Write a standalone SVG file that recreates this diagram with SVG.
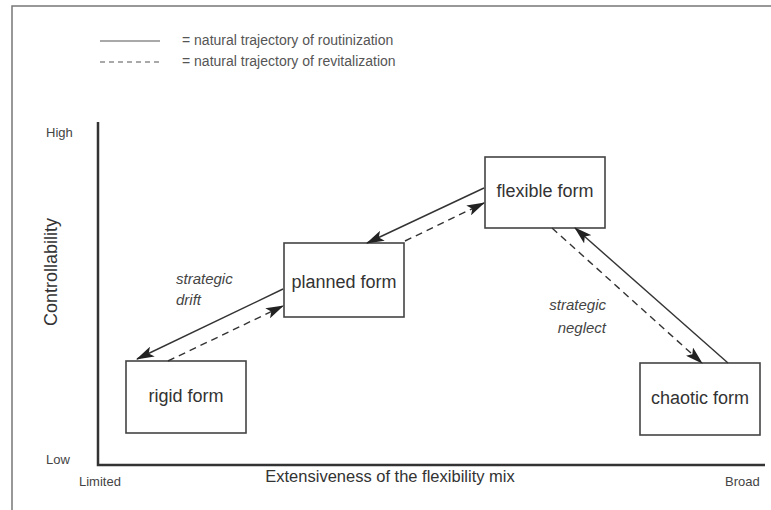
<svg xmlns="http://www.w3.org/2000/svg" width="771" height="510" viewBox="0 0 771 510">
<defs>
<style>
.frame{stroke:#777;stroke-width:1.5;fill:none}
.axis{stroke:#333;stroke-width:2.5;fill:none}
.box{fill:#fff;stroke:#444;stroke-width:1.6}
.lbl{font-family:"Liberation Sans",Arial,sans-serif;font-size:18px;fill:#333;text-anchor:middle}
.small{font-family:"Liberation Sans",Arial,sans-serif;font-size:13px;fill:#444}
.leg{font-family:"Liberation Sans",Arial,sans-serif;font-size:14px;fill:#555}
.it{font-family:"Liberation Sans",Arial,sans-serif;font-size:15px;font-style:italic;fill:#444}
.solid{stroke:#333;stroke-width:1.4;fill:none}
.dash{stroke:#333;stroke-width:1.4;fill:none;stroke-dasharray:7 5}
</style>
<marker id="ah" viewBox="0 0 18 11" refX="17" refY="5.5" markerWidth="18" markerHeight="11" markerUnits="userSpaceOnUse" orient="auto">
<path d="M0,0 L18,5.5 L0,11 L4,5.5 z" fill="#222"/>
</marker>
</defs>
<rect width="771" height="510" fill="#fff"/>
<g id="frame">
<path class="frame" d="M12,510 L12,6 L771,6"/>
</g>
<g id="legend">
<line x1="100" y1="41" x2="160" y2="41" stroke="#555" stroke-width="1.2"/>
<line x1="100" y1="62" x2="160" y2="62" stroke="#555" stroke-width="1.2" stroke-dasharray="5 4"/>
<text class="leg" x="182" y="45">= natural trajectory of routinization</text>
<text class="leg" x="182" y="66">= natural trajectory of revitalization</text>
</g>
<g id="axes">
<path class="axis" d="M98,122 L98,465 L765,465"/>
<text class="small" x="46" y="137">High</text>
<text class="small" x="46" y="464">Low</text>
<text class="small" x="79" y="486">Limited</text>
<text class="small" x="725" y="486">Broad</text>
<text class="lbl" x="390" y="482" style="font-size:16.5px">Extensiveness of the flexibility mix</text>
<text class="lbl" transform="translate(57,272) rotate(-90)">Controllability</text>
</g>
<g id="rigid">
<rect class="box" x="126" y="361" width="120" height="72"/>
<text class="lbl" x="186" y="402">rigid form</text>
</g>
<g id="planned">
<rect class="box" x="284" y="243" width="120" height="74"/>
<text class="lbl" x="344" y="288">planned form</text>
</g>
<g id="flexible">
<rect class="box" x="485" y="157" width="120" height="71"/>
<text class="lbl" x="545" y="197">flexible form</text>
</g>
<g id="chaotic">
<rect class="box" x="640" y="363" width="120" height="72"/>
<text class="lbl" x="700" y="404">chaotic form</text>
</g>
<g id="connectors">
<line class="solid" x1="484" y1="188" x2="367" y2="243" marker-end="url(#ah)"/>
<line class="dash" x1="405" y1="241" x2="484" y2="203" marker-end="url(#ah)"/>
<line class="solid" x1="283" y1="289" x2="137" y2="359" marker-end="url(#ah)"/>
<line class="dash" x1="168" y1="361" x2="283" y2="306" marker-end="url(#ah)"/>
<line class="solid" x1="728" y1="363" x2="575" y2="228" marker-end="url(#ah)"/>
<line class="dash" x1="552" y1="228" x2="702" y2="363" marker-end="url(#ah)"/>
<text class="it" x="176" y="284">strategic</text>
<text class="it" x="176" y="305">drift</text>
<text class="it" x="606" y="310" text-anchor="end">strategic</text>
<text class="it" x="606" y="333" text-anchor="end">neglect</text>
</g>
</svg>
